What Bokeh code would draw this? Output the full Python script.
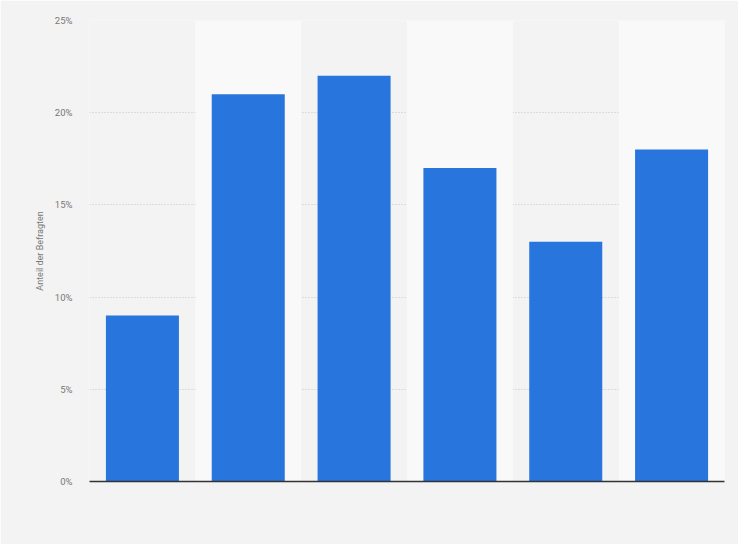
from bokeh.plotting import figure
from bokeh.models import Range1d, FixedTicker, CustomJSTickFormatter
from bokeh.embed import file_html
from bokeh.resources import INLINE

categories = [1, 2, 3, 4, 5, 6]
values = [9, 21, 22, 17, 13, 18]
y_ticks = [0, 5, 10, 15, 20, 25]
band_categories = [2, 4, 6]
y_title = "Anteil der Befragten"

p = figure(width=738, height=544, frame_width=635, frame_height=461,
           output_backend="svg", toolbar_location=None,
           x_range=Range1d(0.5, 6.5), y_range=Range1d(0, 25),
           min_border_left=89, min_border_right=14, min_border_top=20, min_border_bottom=63)
p.background_fill_color = "#f3f3f3"
p.border_fill_color = "#f3f3f3"
p.outline_line_color = None

p.vbar(x=band_categories, width=1, bottom=0, top=25, fill_color="#f9f9f9", line_color=None)
p.vbar(x=categories, width=0.69, bottom=0, top=values, fill_color="#2876dd", line_color=None)

p.xgrid.visible = False
p.ygrid.ticker = FixedTicker(ticks=y_ticks)
p.ygrid.grid_line_color = "#c4c4c4"
p.ygrid.grid_line_dash = "1 2"
p.ygrid.grid_line_width = 1

p.xaxis.ticker = FixedTicker(ticks=[])
p.xaxis.axis_line_color = "#333333"
p.xaxis.axis_line_width = 1.5
p.xaxis.major_tick_line_color = None
p.xaxis.minor_tick_line_color = None
p.xaxis.major_label_text_font_size = "0px"

p.yaxis.ticker = FixedTicker(ticks=y_ticks)
p.yaxis.formatter = CustomJSTickFormatter(code="return tick + '%';")
p.yaxis.axis_line_color = None
p.yaxis.major_tick_line_color = None
p.yaxis.minor_tick_line_color = None
p.yaxis.major_label_standoff = 11
p.yaxis.major_label_text_font = "Roboto"
p.yaxis.major_label_text_font_size = "9.5px"
p.yaxis.major_label_text_color = "#777777"
p.yaxis.axis_label = y_title
p.yaxis.axis_label_text_font = "Roboto"
p.yaxis.axis_label_text_font_size = "9px"
p.yaxis.axis_label_text_font_style = "normal"
p.yaxis.axis_label_text_color = "#777777"
p.yaxis.axis_label_standoff = 7

open("out.html", "w").write(file_html(p, INLINE))
